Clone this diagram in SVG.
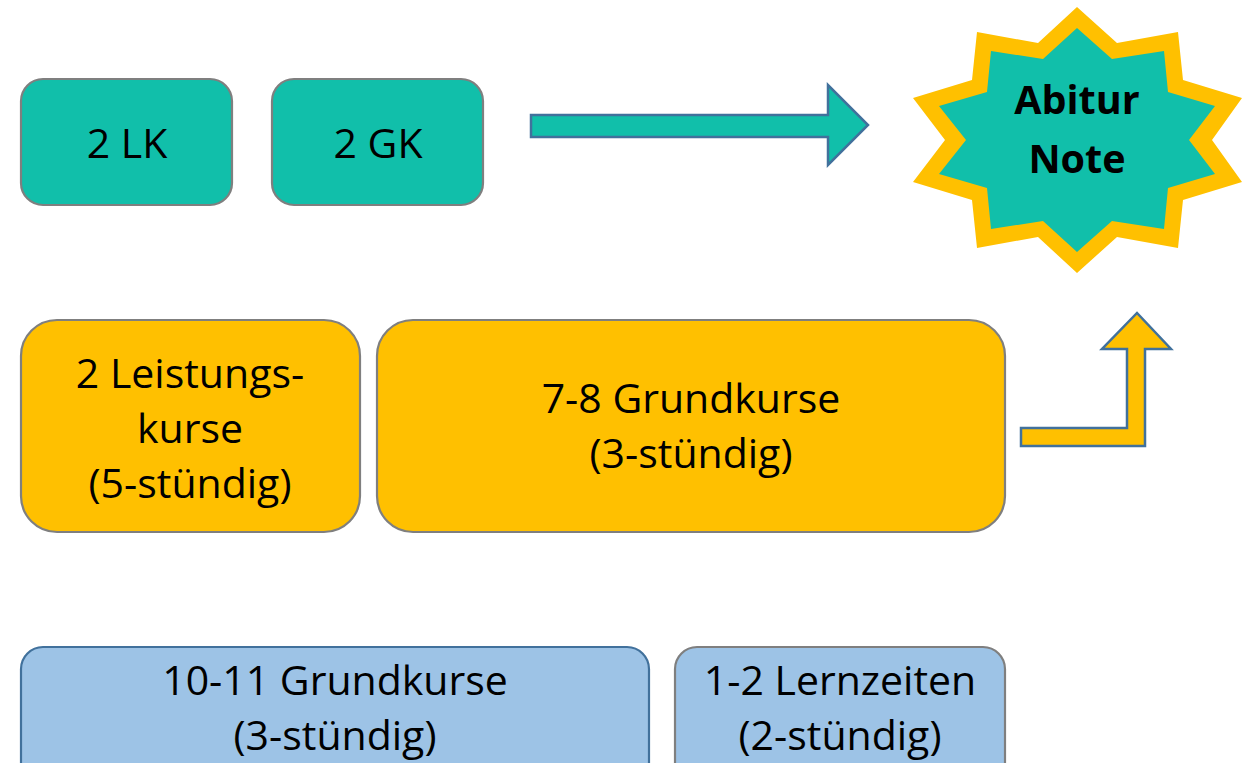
<svg xmlns="http://www.w3.org/2000/svg" width="1246" height="763" viewBox="0 0 1246 763">
<style>
.t{font-family:"Open Sans","Liberation Sans",sans-serif;font-size:41px;fill:#000;text-anchor:middle}
.b{font-weight:bold;font-size:39.5px}
.teal{fill:#11BFAA;stroke:#7F7F7F;stroke-width:2.2}
.yel{fill:#FFC000;stroke:#7F7F7F;stroke-width:2.2}
.blu{fill:#9DC3E6;stroke:#7F7F7F;stroke-width:2.2}
.arr{stroke:#41719C;stroke-width:2.5;stroke-linejoin:miter}
</style>
<rect width="1246" height="763" fill="#fff"/>
<g id="lk"><rect class="teal" x="21" y="79" width="211" height="126" rx="22"/><text class="t" x="127" y="158">2 LK</text></g>
<g id="gk"><rect class="teal" x="272" y="79" width="211" height="126" rx="22"/><text class="t" x="378" y="158">2 GK</text></g>
<g id="abitur">
<polygon fill="#FFC000" points="1077,7 1117,43 1178,32 1183,80 1242,98 1212,140 1242,182 1183,200 1178,248 1117,237 1077,273 1038,237 977,248 972,200 913,182 945,140 913,98 972,80 977,32 1038,43"/>
<polygon fill="#11BFAA" points="1077,28 1112,59 1164,51 1168,92 1215,106 1189,140 1215,174 1168,188 1164,229 1112,221 1077,252 1043,221 991,229 987,188 939,174 966,140 939,106 987,92 991,51 1043,59"/>
<text class="t b" x="1077" y="114">Abitur</text>
<text class="t b" x="1077" y="173">Note</text>
</g>
<g id="lkurse"><rect class="yel" x="21" y="320" width="339" height="212" rx="36"/>
<text class="t" x="190" y="388">2 Leistungs-</text><text class="t" x="190" y="443">kurse</text><text class="t" x="190" y="498">(5-stündig)</text></g>
<g id="gkurse"><rect class="yel" x="377" y="320" width="628" height="212" rx="36"/>
<text class="t" x="691" y="413">7-8 Grundkurse</text><text class="t" x="691" y="468">(3-stündig)</text></g>
<g id="grund"><rect class="blu" x="21" y="647" width="628" height="140" rx="22" style="stroke:#41719C"/>
<text class="t" x="335" y="695">10-11 Grundkurse</text><text class="t" x="335" y="750">(3-stündig)</text></g>
<g id="lern"><rect class="blu" x="675" y="647" width="330" height="140" rx="22"/>
<text class="t" x="840" y="695">1-2 Lernzeiten</text><text class="t" x="840" y="750">(2-stündig)</text></g>
<g id="connectors">
<polygon class="arr" fill="#11BFAA" points="531,115 828,115 828,85 868,125 828,165 828,137 531,137"/>
<polygon class="arr" fill="#FFC000" points="1021,428 1127,428 1127,349 1102,349 1137,313 1171,349 1145,349 1145,446 1021,446"/>
</g>
</svg>
